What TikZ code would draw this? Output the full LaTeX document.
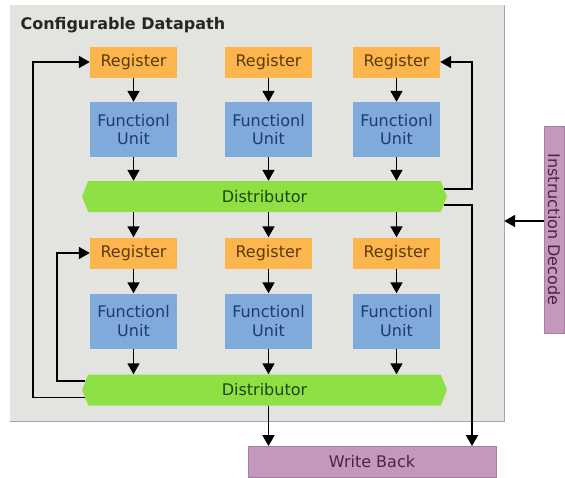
\documentclass[tikz,border=0pt]{standalone}
\usepackage{fontspec}
\setmainfont{DejaVu Sans}
\usetikzlibrary{shapes.symbols,arrows.meta,calc}
\definecolor{bggrey}{HTML}{E3E4E0}
\definecolor{regc}{HTML}{FDB64E}
\definecolor{regt}{HTML}{5A3A08}
\definecolor{fuc}{HTML}{7FAADA}
\definecolor{fut}{HTML}{1E3C70}
\definecolor{distc}{HTML}{8FE044}
\definecolor{distt}{HTML}{184A08}
\definecolor{purp}{HTML}{C497BD}
\definecolor{purpd}{HTML}{A77EA0}
\definecolor{purpt}{HTML}{4A2446}
\tikzset{
  lbl/.style={font=\fontsize{16}{18.5}\selectfont},
  regbox/.style={lbl,rectangle,fill=regc,text=regt,minimum width=87pt,minimum height=31pt,inner sep=0pt},
  fubox/.style={lbl,rectangle,fill=fuc,text=fut,minimum width=87pt,minimum height=55pt,inner sep=0pt,align=center},
  distbox/.style={lbl,signal,signal to=west and east,signal pointer angle=136,fill=distc,text=distt,minimum width=365pt,minimum height=31pt,inner sep=0pt},
  purpbox/.style={lbl,rectangle,fill=purp,draw=purpd,line width=0.8pt,text=purpt,inner sep=0pt},
  arr/.style={line width=1.7pt,-{Triangle[width=12pt,length=11pt]}},
  ln/.style={line width=1.7pt}
}
\begin{document}
\begin{tikzpicture}[x=1pt,y=-1pt]
\useasboundingbox[fill=white] (0,0) rectangle (565,477);
\node[fill=bggrey,minimum width=494pt,minimum height=416pt,inner sep=0pt] (bg) at (257,213) {};
\draw[gray!70,line width=0.8pt] (bg.north east) -- (bg.south east) -- (bg.south west);
\node[anchor=base west,font=\fontsize{16}{18}\selectfont\bfseries,text=black!85] (title) at (17,29.5) {Configurable Datapath};
% row 1
\node[regbox] (r11) at (133.5,62) {Register};
\node[regbox] (r12) at (268.5,62) {Register};
\node[regbox] (r13) at (396.5,62) {Register};
\node[fubox] (f11) at (133.5,129.5) {Functionl\\Unit};
\node[fubox] (f12) at (268.5,129.5) {Functionl\\Unit};
\node[fubox] (f13) at (396.5,129.5) {Functionl\\Unit};
\node[distbox] (d1) at (264.5,196.5) {Distributor};
% row 2
\node[regbox] (r21) at (133.5,253) {Register};
\node[regbox] (r22) at (268.5,253) {Register};
\node[regbox] (r23) at (396.5,253) {Register};
\node[fubox] (f21) at (133.5,321) {Functionl\\Unit};
\node[fubox] (f22) at (268.5,321) {Functionl\\Unit};
\node[fubox] (f23) at (396.5,321) {Functionl\\Unit};
\node[distbox] (d2) at (264.5,390) {Distributor};
% outside boxes
\node[purpbox,minimum width=20pt,minimum height=207pt] (id) at (554,229.5) {};
\node[lbl,text=purpt,rotate=-90] (idt) at (id.center) {Instruction Decode};
\node[purpbox,minimum width=248pt,minimum height=31pt] (wb) at (372,462) {Write Back};
% vertical arrows
\foreach \c in {1,2,3}{
  \draw[arr] (r1\c.south) -- (f1\c.north);
  \draw[arr] (f1\c.south) -- (f1\c.south |- d1.north);
  \draw[arr] (r2\c.north |- d1.south) -- (r2\c.north);
  \draw[arr] (r2\c.south) -- (f2\c.north);
  \draw[arr] (f2\c.south) -- (f2\c.south |- d2.north);
}
\draw[arr] (f22.south |- d2.south) -- (f22.south |- wb.north);
% feedback right
\coordinate (rx) at (472,0);
\coordinate (d1a) at ($(d1.east)+(-3,-7.5)$);
\coordinate (d1b) at ($(d1.east)+(-3,8.5)$);
\draw[arr] (d1a) -- (d1a -| rx) -- (rx |- r13.east) -- (r13.east);
\draw[arr] (d1b) -- (d1b -| rx) -- (rx |- wb.north);
% feedback left
\coordinate (lx1) at (57,0);
\coordinate (lx2) at (33,0);
\coordinate (d2a) at ($(d2.west)+(3,-9)$);
\coordinate (d2b) at ($(d2.west)+(3,7.5)$);
\draw[arr] (d2a) -- (d2a -| lx1) -- (lx1 |- r21.west) -- (r21.west);
\draw[arr] (d2b) -- (d2b -| lx2) -- (lx2 |- r11.west) -- (r11.west);
% instruction decode arrow
\coordinate (ida) at ($(id.west)+(0,-8.5)$);
\draw[arr] (ida) -- (ida -| bg.east);
\end{tikzpicture}
\end{document}
